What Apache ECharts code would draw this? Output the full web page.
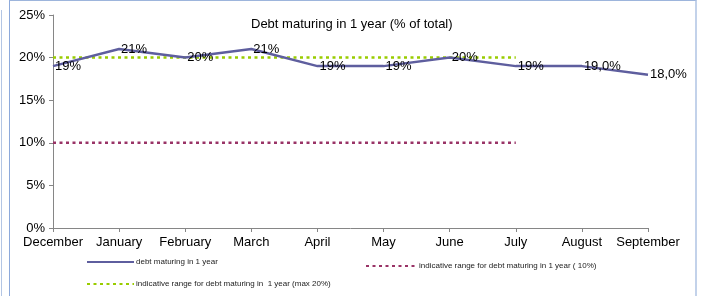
<!DOCTYPE html>
<html>
<head>
<meta charset="utf-8">
<script src="https://cdn.jsdelivr.net/npm/echarts@6/dist/echarts.min.js"></script>
<style>
  html, body { margin: 0; padding: 0; background: #fff; }
  .frame-outer {
    position: absolute; left: 1px; top: 10px; width: 0; height: 290px;
    border-left: 1px solid #b4c6e4;
  }
  .frame {
    position: absolute; left: 9px; top: 0; width: 685px; height: 300px;
    border-left: 1px solid #8eaadb; border-top: 1px solid #9db5dc; border-right: 2px solid #c3d2ea;
  }
  #chart { position: absolute; left: 0; top: 0; width: 709px; height: 296px; }
</style>
</head>
<body>
<div class="frame-outer"></div>
<div class="frame"></div>
<div id="chart"></div>
<script>
const months = ['December', 'January', 'February', 'March', 'April', 'May', 'June', 'July', 'August', 'September']
const debtValues = [19, 21, 20, 21, 19, 19, 20, 19, 19, 18]
const debtLabels = ['19%', '21%', '20%', '21%', '19%', '19%', '20%', '19%', '19,0%', '18,0%']
const maxRange = [20, 20, 20, 20, 20, 20, 20, 20]
const lowRange = [10, 10, 10, 10, 10, 10, 10, 10]

const font = 'Liberation Sans, Arial, sans-serif'
const chart = echarts.init(document.getElementById('chart'))

// one legend per item so each sits where the original puts it; line only, no marker
function legendAt(name, left, top, width) {
  return {
    data: [name],
    left: left,
    top: top,
    padding: 0,
    itemWidth: width,
    itemHeight: 10,
    itemStyle: { opacity: 0 },
    textStyle: { fontFamily: font, fontSize: 8, color: '#222', padding: [0, 0, 0, -3] }
  }
}

const nameDebt = 'debt maturing in 1 year'
const nameLow = 'indicative range for debt maturing in 1 year ( 10%)'
const nameMax = 'indicative range for debt maturing in  1 year (max 20%)'

chart.setOption({
  animation: false,
  title: {
    text: 'Debt maturing in 1 year (% of total)',
    left: 246,
    top: 13,
    textStyle: { fontFamily: font, fontSize: 13, fontWeight: 'normal', color: '#000' }
  },
  legend: [
    legendAt(nameDebt, 86, 258, 47),
    legendAt(nameLow, 365, 261, 51),
    legendAt(nameMax, 86, 279, 47)
  ],
  grid: { left: 53, right: 61, top: 15, bottom: 68 },
  xAxis: {
    type: 'category',
    data: months,
    boundaryGap: false,
    axisLine: { lineStyle: { color: '#868686', width: 1 } },
    axisTick: { length: 4, lineStyle: { color: '#868686' } },
    axisLabel: { fontFamily: font, fontSize: 13, color: '#000', margin: 8, interval: 0 }
  },
  yAxis: {
    type: 'value',
    min: 0,
    max: 25,
    interval: 5,
    splitLine: { show: false },
    axisLine: { show: true, lineStyle: { color: '#868686', width: 1 } },
    axisTick: { show: true, length: 4, lineStyle: { color: '#868686' } },
    axisLabel: { fontFamily: font, fontSize: 13, color: '#000', margin: 8, formatter: '{value}%' }
  },
  series: [
    {
      name: nameMax,
      type: 'line',
      data: maxRange,
      showSymbol: false,
      color: '#99cc00',
      lineStyle: { width: 2.5, type: [3, 3.5], color: '#99cc00' },
      z: 1
    },
    {
      name: nameLow,
      type: 'line',
      data: lowRange,
      showSymbol: false,
      color: '#993366',
      lineStyle: { width: 2.5, type: [3, 3.5], color: '#993366' },
      z: 1
    },
    {
      name: nameDebt,
      type: 'line',
      data: debtValues,
      symbol: 'circle',
      symbolSize: 0,
      showSymbol: true,
      color: '#5e5e9e',
      lineStyle: { width: 2.5, color: '#5e5e9e' },
      z: 3,
      label: {
        show: true,
        position: 'right',
        distance: 2,
        fontFamily: font,
        fontSize: 13,
        color: '#000',
        formatter: p => debtLabels[p.dataIndex]
      }
    }
  ]
})
</script>
</body>
</html>
